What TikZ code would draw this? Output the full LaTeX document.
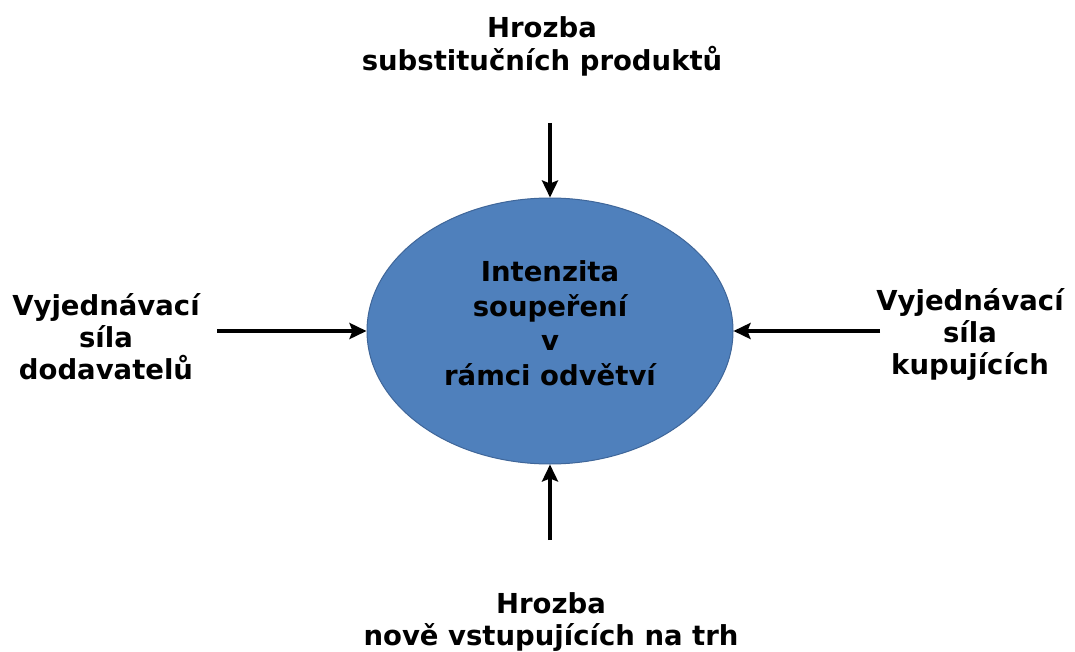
\documentclass[tikz,border=0pt]{standalone}
\usepackage{fontspec}
\setmainfont{DejaVu Sans}
\usetikzlibrary{shapes.geometric,arrows.meta}

\definecolor{coreblue}{HTML}{4F80BC}
\definecolor{coreedge}{HTML}{3F6699}

\tikzset{
  force/.style={font=\bfseries\fontsize{27.5}{32}\selectfont, align=center, inner sep=0pt},
  threat/.style={font=\bfseries\fontsize{27.5}{33}\selectfont, align=center, inner sep=0pt},
  corelabel/.style={font=\bfseries\fontsize{27.5}{34.5}\selectfont, align=center, inner sep=0pt},
  push/.style={line width=3.6pt, -{Stealth[length=17pt,width=16pt,inset=3pt]}},
}

\begin{document}
\begin{tikzpicture}[x=1pt,y=-1pt]
  \useasboundingbox (0,0) rectangle (1075,652);

  % central rivalry ellipse
  \node[ellipse, fill=coreblue, draw=coreedge, line width=1pt,
        minimum width=366pt, minimum height=266pt, inner sep=0pt] (core) at (550,331) {};
  \node[corelabel] (coretext) at (550,323) {Intenzita\\soupeření\\v\\rámci odvětví};

  % the four outside forces
  \node[threat, anchor=north] (subst)  at (542,16.5) {Hrozba\\substitučních produktů};
  \node[threat, anchor=south, font=\bfseries\fontsize{27.5}{32}\selectfont]
                               (entry)  at (551,651.5) {Hrozba\\nově vstupujících na trh};
  \node[force]  (supply) at (106,337)  {Vyjednávací\\síla\\dodavatelů};
  \node[force]  (buyers) at (970,334)  {Vyjednávací\\síla\\kupujících};

  % arrow tails
  \coordinate (substTail)  at (550,123);
  \coordinate (entryTail)  at (550,540);
  \coordinate (supplyTail) at (217,331);
  \coordinate (buyersTail) at (880,331);

  \draw[push] (substTail)  -- (core.north);
  \draw[push] (entryTail)  -- (core.south);
  \draw[push] (supplyTail) -- (core.west);
  \draw[push] (buyersTail) -- (core.east);
\end{tikzpicture}
\end{document}
